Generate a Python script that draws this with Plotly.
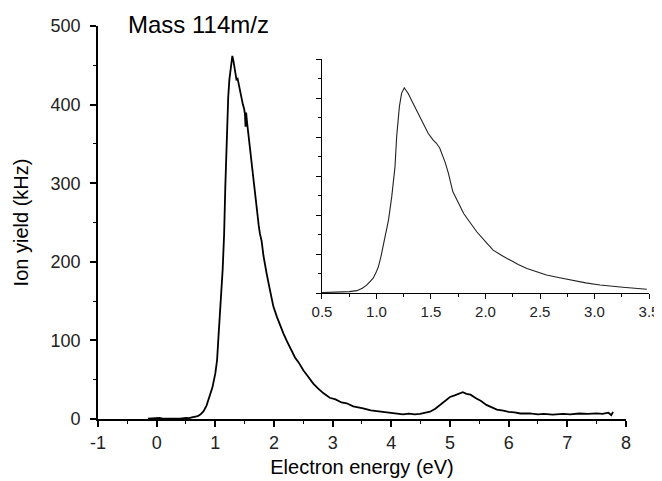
import plotly.graph_objects as go

# Main spectrum: electron energy (eV) vs ion yield (kHz)
main_energy = [-0.15, -0.05, 0.0, 0.05, 0.1, 0.2, 0.3, 0.4, 0.5, 0.55, 0.6, 0.65, 0.7, 0.75,
               0.8, 0.85, 0.9, 0.95, 1.0, 1.03, 1.05, 1.08, 1.1, 1.125, 1.15, 1.17, 1.2, 1.22,
               1.24, 1.27, 1.29, 1.31, 1.34, 1.36, 1.38, 1.4, 1.44, 1.47, 1.49, 1.505, 1.515,
               1.525, 1.54, 1.56, 1.6, 1.62, 1.65, 1.68, 1.7, 1.74, 1.76, 1.79, 1.82, 1.85,
               1.875, 1.92, 1.96, 1.99, 2.05, 2.1, 2.16, 2.22, 2.28, 2.33, 2.36, 2.42, 2.5,
               2.58, 2.67, 2.75, 2.84, 2.95, 3.05, 3.15, 3.24, 3.35, 3.45, 3.52, 3.65, 3.81,
               3.95, 4.09, 4.2, 4.3, 4.4, 4.49, 4.58, 4.66, 4.75, 4.83, 4.92, 5.0, 5.08, 5.17,
               5.22, 5.28, 5.35, 5.45, 5.53, 5.62, 5.72, 5.8, 5.91, 6.0, 6.1, 6.2, 6.36, 6.5,
               6.6, 6.75, 6.93, 7.05, 7.2, 7.35, 7.5, 7.6, 7.7, 7.75, 7.78]
main_yield = [0.5, 1, 2, 1.5, 0.5, 0.3, 0.8, 0.5, 1.5, 1, 2, 2.5, 3.5, 6,
              10, 17, 28, 40, 58, 75, 100, 130, 160, 190, 235, 295, 370, 410,
              432, 450, 462, 455, 440, 432, 433, 425, 410, 400, 395, 388, 372,
              390, 378, 364, 342, 330, 304, 285, 270, 246, 236, 226, 208, 194,
              185, 168, 152, 143, 130, 120, 109, 99, 90, 84, 78, 72, 62,
              54, 45, 39, 33, 27, 25, 21, 20, 16, 15, 13.6, 11, 9.3,
              8, 7.2, 6, 6.8, 5.8, 6.4, 7.5, 9.3, 13, 18, 23, 28, 30, 32.6,
              34, 32, 31, 26, 23, 18, 15, 12, 10.6, 9, 8.5, 7, 7.2, 6,
              6.5, 5.5, 6.4, 6, 7, 6.5, 7.2, 6.5, 8, 5, 9]

# Inset spectrum (arbitrary units, no labels on its y axis)
inset_energy = [0.5, 0.6, 0.665, 0.75, 0.82, 0.87, 0.91, 0.94, 0.97, 1.0, 1.017, 1.04, 1.06,
                1.085, 1.11, 1.14, 1.17, 1.185, 1.2, 1.21, 1.23, 1.245, 1.255, 1.27, 1.29,
                1.32, 1.36, 1.4, 1.44, 1.475, 1.52, 1.55, 1.58, 1.6, 1.63, 1.66, 1.7, 1.75,
                1.8, 1.86, 1.92, 2.0, 2.07, 2.15, 2.22, 2.3, 2.38, 2.47, 2.56, 2.68, 2.8,
                2.92, 3.05, 3.15, 3.26, 3.37, 3.48]
inset_signal = [1, 1.5, 2, 3.5, 6, 12, 20, 28, 38, 55, 67, 92, 119,
                150, 187, 247, 324, 401, 450, 478, 512, 522, 526, 520, 512,
                495, 472, 452, 430, 409, 392, 384, 372, 358, 335, 307, 260, 232,
                204, 180, 157, 132, 110, 96, 85, 73, 63, 54, 46, 39, 32,
                26, 20.5, 17, 14.6, 12, 9.5]

x_ticks_main = [-1, 0, 1, 2, 3, 4, 5, 6, 7, 8]
y_ticks_main = [0, 100, 200, 300, 400, 500]
x_ticks_inset = [0.5, 1.0, 1.5, 2.0, 2.5, 3.0, 3.5]
x_ticklabels_inset = ["0.5", "1.0", "1.5", "2.0", "2.5", "3.0", "3.5"]

FONT = "Arial, 'Liberation Sans', Helvetica, sans-serif"

fig = go.Figure()
fig.add_trace(go.Scatter(x=main_energy, y=main_yield, mode="lines",
                         line=dict(color="black", width=1.8), xaxis="x", yaxis="y",
                         showlegend=False))
fig.add_trace(go.Scatter(x=inset_energy, y=inset_signal, mode="lines",
                         line=dict(color="#222222", width=1.1), xaxis="x2", yaxis="y2",
                         showlegend=False))

fig.update_layout(
    width=654, height=473,
    margin=dict(l=90, r=10, t=18, b=62, autoexpand=False),
    paper_bgcolor="white", plot_bgcolor="white",
    font=dict(family=FONT, color="black"),
    xaxis=dict(domain=[0, 0.953], range=[-1, 8], tickvals=x_ticks_main,
               ticktext=[str(v) for v in x_ticks_main],
               showline=True, linecolor="black", linewidth=1.8, mirror=False,
               ticks="outside", ticklen=6, tickwidth=1.6, tickcolor="black",
               minor=dict(dtick=0.5, ticks="outside", ticklen=3, tickwidth=1.4,
                          tickcolor="black", showgrid=False),
               showgrid=False, zeroline=False, tickfont=dict(size=18, color="#222"),
               title=dict(text="Electron energy (eV)", font=dict(size=20), standoff=8),
               automargin=False, anchor="y"),
    yaxis=dict(domain=[0, 1], range=[0, 500], tickvals=y_ticks_main,
               showline=True, linecolor="black", linewidth=1.8,
               ticks="outside", ticklen=6, tickwidth=1.6, tickcolor="black",
               minor=dict(dtick=50, ticks="outside", ticklen=3, tickwidth=1.4,
                          tickcolor="black", showgrid=False),
               showgrid=False, zeroline=False, tickfont=dict(size=18, color="#222"),
               ticklabelstandoff=6,
               title=dict(text="Ion yield (kHz)", font=dict(size=20), standoff=16),
               automargin=False, anchor="x"),
    xaxis2=dict(domain=[0.4043, 0.9946], range=[0.5, 3.5], tickvals=x_ticks_inset,
                ticktext=x_ticklabels_inset,
                showline=True, linecolor="black", linewidth=1.3,
                ticks="outside", ticklen=5, tickwidth=1.2, tickcolor="black",
                minor=dict(dtick=0.25, ticks="outside", ticklen=3, tickwidth=1.0,
                           tickcolor="black", showgrid=False),
                showgrid=False, zeroline=False, tickfont=dict(size=15, color="#222"),
                automargin=False, anchor="y2"),
    yaxis2=dict(domain=[0.3206, 0.916], range=[0, 600], dtick=100,
                showline=True, linecolor="black", linewidth=1.3,
                ticks="outside", ticklen=5, tickwidth=1.2, tickcolor="black",
                minor=dict(dtick=50, ticks="outside", ticklen=3, tickwidth=1.0,
                           tickcolor="black", showgrid=False),
                showticklabels=False, showgrid=False, zeroline=False,
                automargin=False, anchor="x2"),
    annotations=[dict(text="Mass 114m/z", xref="paper", yref="paper",
                      x=0.05, y=1.005, xanchor="left", yanchor="middle",
                      showarrow=False, font=dict(size=24, family=FONT, color="black"))],
)

fig.write_html("out.html")
